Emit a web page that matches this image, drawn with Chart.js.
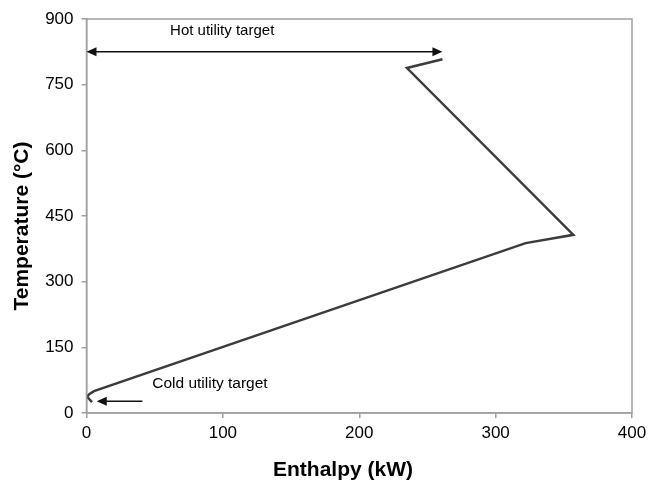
<!DOCTYPE html>
<html><head><meta charset="utf-8">
<script src="https://cdn.jsdelivr.net/npm/chart.js@4/dist/chart.umd.min.js"></script>
<style>html,body{margin:0;padding:0;background:#fff}#wrap{width:648px;height:481px}</style>
</head><body><div id="wrap"><canvas id="c"></canvas></div>
<script>
const enthalpy = [261, 235, 357, 322, 5.5, 2, 0.5, 4];
const temperature = [808, 788, 407, 388, 50, 43, 37, 25];
const xTicks = [0, 100, 200, 300, 400];
const yTicks = [0, 150, 300, 450, 600, 750, 900];
const xTitle = 'Enthalpy (kW)';
const yTitle = 'Temperature (°C)';
const hotArrow = {x1: 0, x2: 261, y: 825, label: 'Hot utility target', lx: 99.5, ly: 873};
const coldArrow = {x1: 41, x2: 7.5, y: 27, label: 'Cold utility target', lx: 90.5, ly: 66};

const FONT = 'Arial, "Liberation Sans", sans-serif';
const annot = {
  id: 'annot',
  afterDatasetsDraw(chart) {
    const {ctx, scales: {x, y}, chartArea: a} = chart;
    ctx.save();
    ctx.strokeStyle = '#a0a0a0'; ctx.lineWidth = 1.5;
    ctx.strokeRect(a.left, a.top, a.right - a.left, a.bottom - a.top);
    function head(px, py, dir) {
      ctx.beginPath();
      ctx.moveTo(px, py);
      ctx.lineTo(px - dir * 10, py - 4.5);
      ctx.lineTo(px - dir * 10, py + 4.5);
      ctx.closePath(); ctx.fill();
    }
    ctx.strokeStyle = '#111'; ctx.fillStyle = '#111'; ctx.lineWidth = 1.5;
    let ya = y.getPixelForValue(hotArrow.y);
    let xa = x.getPixelForValue(hotArrow.x1), xb = x.getPixelForValue(hotArrow.x2);
    ctx.beginPath(); ctx.moveTo(xa + 5, ya); ctx.lineTo(xb - 5, ya); ctx.stroke();
    head(xa, ya, -1); head(xb, ya, 1);
    ya = y.getPixelForValue(coldArrow.y);
    xa = x.getPixelForValue(coldArrow.x1); xb = x.getPixelForValue(coldArrow.x2);
    ctx.beginPath(); ctx.moveTo(xa, ya); ctx.lineTo(xb + 5, ya); ctx.stroke();
    head(xb, ya, -1);
    ctx.fillStyle = '#000';
    ctx.textAlign = 'center'; ctx.textBaseline = 'middle';
    ctx.font = '15px ' + FONT;
    ctx.fillText(hotArrow.label, x.getPixelForValue(hotArrow.lx), y.getPixelForValue(hotArrow.ly));
    ctx.font = '15.5px ' + FONT;
    ctx.fillText(coldArrow.label, x.getPixelForValue(coldArrow.lx), y.getPixelForValue(coldArrow.ly));
    ctx.font = 'bold 21px ' + FONT;
    ctx.fillText(xTitle, 343, 470);
    ctx.translate(22, 226); ctx.rotate(-Math.PI / 2);
    ctx.fillText(yTitle, 0, 0);
    ctx.restore();
  }
};

new Chart(document.getElementById('c'), {
  type: 'scatter',
  data: {datasets: [{
    data: enthalpy.map((v, i) => ({x: v, y: temperature[i]})),
    showLine: true, borderColor: '#3c3c3c', borderWidth: 2.5, pointRadius: 0,
    fill: false, tension: 0
  }]},
  options: {
    responsive: true, maintainAspectRatio: false, animation: false,
    layout: {padding: {left: 0, right: 16, top: 19, bottom: 0}},
    plugins: {legend: {display: false}, tooltip: {enabled: false}},
    scales: {
      x: {
        type: 'linear', min: 0, max: 400,
        afterBuildTicks(s) { s.ticks = xTicks.map(v => ({value: v})); },
        afterFit(s) { s.height = 68; s.paddingRight = 0; },
        grid: {drawOnChartArea: false, drawTicks: true, tickLength: 5, color: '#a0a0a0', lineWidth: 1.5},
        border: {display: true, color: '#a0a0a0', width: 1.5},
        ticks: {color: '#000', padding: 5, font: {size: 17, family: FONT}}
      },
      y: {
        type: 'linear', min: 0, max: 900,
        afterBuildTicks(s) { s.ticks = yTicks.map(v => ({value: v})); },
        afterFit(s) { s.width = 86.5; },
        grid: {drawOnChartArea: false, drawTicks: true, tickLength: 5, color: '#a0a0a0', lineWidth: 1.5},
        border: {display: true, color: '#a0a0a0', width: 1.5},
        ticks: {color: '#000', padding: 8, font: {size: 17, family: FONT}}
      }
    }
  },
  plugins: [annot]
});
</script></body></html>
